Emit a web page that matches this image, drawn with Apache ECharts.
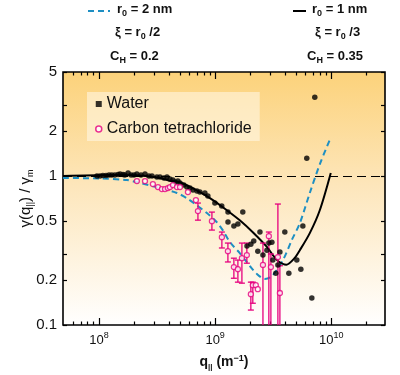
<!DOCTYPE html>
<html>
<head>
<meta charset="utf-8">
<script src="https://cdn.jsdelivr.net/npm/echarts@6/dist/echarts.min.js"></script>
<style>
  html, body { margin: 0; padding: 0; background: #fff; }
  #chart { width: 400px; height: 375px; }
</style>
</head>
<body>
<div id="chart"></div>
<script>
// tick values
var xMajor = [1e8, 1e9, 1e10];
var xMinor = [6e7, 7e7, 8e7, 9e7, 2e8, 3e8, 4e8, 5e8, 6e8, 7e8, 8e8, 9e8,
  2e9, 3e9, 4e9, 5e9, 6e9, 7e9, 8e9, 9e9, 2e10];
var yLabels = [0.1, 0.2, 0.5, 1, 2, 5];
var yTicks = [0.1, 0.2, 0.3, 0.5, 1, 2, 3, 5];

// model curves [q, gamma/gamma_m]
var fitR1 = [[4.9e7, 1.0], [1.24e8, 1.015], [2.25e8, 1.01], [3.35e8, 0.97], [4.08e8, 0.93],
  [4.97e8, 0.91], [6.07e8, 0.845], [7.39e8, 0.78], [9.57e8, 0.69], [1.26e9, 0.59],
  [1.63e9, 0.505], [2.11e9, 0.42], [2.79e9, 0.335], [3.14e9, 0.295], [3.5e9, 0.268],
  [4.1e9, 0.254], [4.8e9, 0.28], [5.36e9, 0.318], [6.53e9, 0.414], [7.96e9, 0.59], [9.9e9, 1.05]];
var fitR2 = [[4.9e7, 0.97], [1.0e8, 0.965], [1.74e8, 0.94], [2.25e8, 0.9], [3.35e8, 0.83],
  [4.69e8, 0.77], [5.71e8, 0.71], [6.97e8, 0.635], [8.49e8, 0.565], [1.035e9, 0.49],
  [1.17e9, 0.43], [1.34e9, 0.36], [1.63e9, 0.304], [1.99e9, 0.249], [2.29e9, 0.22],
  [2.68e9, 0.204], [3.08e9, 0.213], [3.83e9, 0.272], [4.57e9, 0.372], [5.36e9, 0.483],
  [6.53e9, 0.77], [7.96e9, 1.2], [9.7e9, 1.75]];

// measurements
var water = [[9.6e7, 1.0], [1.02e8, 1.0], [1.08e8, 1.008], [1.15e8, 1.008], [1.22e8, 1.016],
  [1.29e8, 1.016], [1.37e8, 1.016], [1.46e8, 1.023], [1.52e8, 1.031], [1.61e8, 1.023],
  [1.67e8, 1.016], [1.78e8, 1.047], [1.89e8, 1.016], [2.0e8, 1.016], [2.12e8, 1.031],
  [2.3e8, 1.016], [2.49e8, 1.031], [2.69e8, 1.0], [2.86e8, 1.0], [3.15e8, 0.985],
  [3.35e8, 0.985], [3.62e8, 0.969], [3.85e8, 0.985], [4.08e8, 0.955], [4.33e8, 0.94],
  [4.51e8, 0.911], [4.78e8, 0.926], [4.98e8, 0.897], [5.38e8, 0.87], [5.71e8, 0.844],
  [6.07e8, 0.831], [6.44e8, 0.805], [6.97e8, 0.793], [7.39e8, 0.781], [8.16e8, 0.769],
  [8.66e8, 0.734], [9.95e8, 0.659], [1.14e9, 0.629], [1.29e9, 0.573], [1.29e9, 0.491],
  [1.45e9, 0.462], [1.57e9, 0.476], [1.73e9, 0.573], [1.88e9, 0.339], [2.03e9, 0.349],
  [2.15e9, 0.366], [2.43e9, 0.421], [2.33e9, 0.313], [2.58e9, 0.295], [2.79e9, 0.318],
  [2.9e9, 0.355], [3.08e9, 0.36], [3.14e9, 0.273], [3.33e9, 0.223], [3.47e9, 0.253],
  [3.61e9, 0.309], [3.98e9, 0.421], [4.31e9, 0.223], [5.05e9, 0.273], [5.47e9, 0.237],
  [5.69e9, 0.462], [6.15e9, 1.32], [6.8e9, 0.152], [7.21e9, 3.39]];
var ccl4 = [[2.12e8, 0.926], [2.49e8, 0.926], [2.91e8, 0.884], [3.22e8, 0.844], [3.48e8, 0.818],
  [3.7e8, 0.818], [3.92e8, 0.831], [4.08e8, 0.844], [4.33e8, 0.87], [4.69e8, 0.844],
  [4.98e8, 0.844], [5.83e8, 0.781], [6.83e8, 0.69], [7.11e8, 0.582], [9.38e8, 0.498],
  [1.143e9, 0.389], [1.288e9, 0.313], [1.45e9, 0.245], [1.57e9, 0.237], [1.7e9, 0.281],
  [1.875e9, 0.295], [2.03e9, 0.161], [2.11e9, 0.185], [2.24e9, 0.185], [2.33e9, 0.174],
  [2.58e9, 0.253], [2.9e9, 0.395], [3.02e9, 0.245], [3.47e9, 0.286], [3.61e9, 0.164]];
// error bars [q, low, high]
var ccl4Err = [[7.11e8, 0.506, 0.659], [9.38e8, 0.434, 0.573], [1.143e9, 0.329, 0.421],
  [1.288e9, 0.265, 0.355], [1.45e9, 0.206, 0.281], [1.57e9, 0.194, 0.273],
  [1.7e9, 0.191, 0.355], [1.875e9, 0.26, 0.355], [2.03e9, 0.126, 0.194],
  [2.11e9, 0.14, 0.194], [2.58e9, 0.1, 0.355], [2.9e9, 0.1, 0.421],
  [3.02e9, 0.1, 0.3], [3.47e9, 0.1, 0.649], [3.61e9, 0.1, 0.25]];

var chart = echarts.init(document.getElementById('chart'));

var FONT = 'Liberation Sans, Arial, sans-serif';
var MAGENTA = '#e6007e';
var BLUE = '#1e8fc3';
var xMin = 4.9e7, xMax = 2.9e10, yMin = 0.1, yMax = 5;

function xAxisDef(pos, ticks, len, withLabel) {
  return {
    type: 'log', logBase: 10, min: xMin, max: xMax, position: pos,
    axisLine: { show: false }, splitLine: { show: false },
    axisTick: { show: true, inside: true, length: len, customValues: ticks,
      lineStyle: { color: '#000', width: 1.2 } },
    axisLabel: withLabel ? {
      customValues: xMajor, margin: 6, color: '#111', fontFamily: FONT, fontSize: 13,
      formatter: function (v) { return '10{s|' + Math.round(Math.log10(v)) + '}'; },
      rich: { s: { fontSize: 9, fontFamily: FONT, color: '#111', padding: [0, 0, 9, 0] } }
    } : { show: false },
    name: withLabel ? '{b|q}{sb|||}{b| (m}{sp|−1}{b|)}' : '',
    nameLocation: 'middle', nameGap: 29, nameMoveOverlap: false,
    nameTextStyle: { rich: {
      b: { fontSize: 14, fontWeight: 'bold', fontFamily: FONT, color: '#111' },
      sb: { fontSize: 8, fontWeight: 'bold', fontFamily: FONT, color: '#111', padding: [9, 0, 0, 0] },
      sp: { fontSize: 9, fontWeight: 'bold', fontFamily: FONT, color: '#111', padding: [0, 0, 8, 0] }
    } }
  };
}

function yAxisDef(pos, withLabel) {
  return {
    type: 'log', logBase: 10, min: yMin, max: yMax, position: pos,
    axisLine: { show: false }, splitLine: { show: false },
    axisTick: { show: true, inside: true, length: 4, customValues: yTicks,
      lineStyle: { color: '#000', width: 1.2 } },
    axisLabel: withLabel ? { customValues: yLabels, margin: 6, color: '#111',
      fontFamily: FONT, fontSize: 15 } : { show: false },
    name: withLabel ? '{n|γ(q}{s|||}{n|) / γ}{s|m}' : '',
    nameLocation: 'middle', nameGap: 28, nameRotate: 90, nameMoveOverlap: false,
    nameTextStyle: { rich: {
      n: { fontSize: 15, fontFamily: FONT, color: '#111' },
      s: { fontSize: 9, fontFamily: FONT, color: '#111', padding: [9, 0, 0, 0] }
    } }
  };
}

var option = {
  animation: false,
  backgroundColor: '#fff',
  textStyle: { fontFamily: FONT },
  grid: {
    left: 63, top: 72, right: 15, bottom: 50, show: true, outerBoundsMode: 'none',
    borderColor: '#000', borderWidth: 1.6,
    backgroundColor: { type: 'linear', x: 0, y: 0, x2: 0, y2: 1, colorStops: [
      { offset: 0, color: '#fcd27a' }, { offset: 0.45, color: '#fde6bb' },
      { offset: 1, color: '#ffffff' }] }
  },
  legend: {
    left: 87, top: 92, orient: 'vertical', itemGap: 9,
    padding: [4, 8, 4, 8], backgroundColor: 'rgba(255,250,235,0.55)',
    itemWidth: 6, itemHeight: 6,
    textStyle: { fontSize: 16, fontFamily: FONT, color: '#111', lineHeight: 16 },
    data: [
      { name: 'Water', icon: 'rect', itemStyle: { color: '#000' } },
      { name: 'Carbon tetrachloride', icon: 'circle',
        itemStyle: { color: '#fff', borderColor: MAGENTA, borderWidth: 1.5 } }
    ]
  },
  graphic: [
    { type: 'line', shape: { x1: 88, y1: 11, x2: 110, y2: 11 },
      style: { stroke: BLUE, lineWidth: 2, lineDash: [6, 4] } },
    { type: 'text', left: 117, top: 3, style: { text: 'r{s|0} = 2 nm', fill: '#111',
      font: 'bold 13px ' + FONT, rich: { s: { fontSize: 9, fontWeight: 'bold', padding: [8, 0, 0, 0] } } } },
    { type: 'text', left: 115, top: 26, style: { text: 'ξ = r{s|0} /2', fill: '#111',
      font: 'bold 13px ' + FONT, rich: { s: { fontSize: 9, fontWeight: 'bold', padding: [8, 0, 0, 0] } } } },
    { type: 'text', left: 110, top: 50, style: { text: 'C{s|H} = 0.2', fill: '#111',
      font: 'bold 13px ' + FONT, rich: { s: { fontSize: 9, fontWeight: 'bold', padding: [8, 0, 0, 0] } } } },
    { type: 'line', shape: { x1: 293, y1: 11, x2: 306, y2: 11 },
      style: { stroke: '#000', lineWidth: 2 } },
    { type: 'text', left: 312, top: 3, style: { text: 'r{s|0} = 1 nm', fill: '#111',
      font: 'bold 13px ' + FONT, rich: { s: { fontSize: 9, fontWeight: 'bold', padding: [8, 0, 0, 0] } } } },
    { type: 'text', left: 315, top: 26, style: { text: 'ξ = r{s|0} /3', fill: '#111',
      font: 'bold 13px ' + FONT, rich: { s: { fontSize: 9, fontWeight: 'bold', padding: [8, 0, 0, 0] } } } },
    { type: 'text', left: 307, top: 50, style: { text: 'C{s|H} = 0.35', fill: '#111',
      font: 'bold 13px ' + FONT, rich: { s: { fontSize: 9, fontWeight: 'bold', padding: [8, 0, 0, 0] } } } }
  ],
  xAxis: [
    xAxisDef('bottom', xMajor, 7, true),
    xAxisDef('bottom', xMinor, 3.5, false),
    xAxisDef('top', xMajor, 7, false),
    xAxisDef('top', xMinor, 3.5, false)
  ],
  yAxis: [yAxisDef('left', true), yAxisDef('right', false)],
  series: [
    {
      name: 'r0 = 2 nm', type: 'line', data: fitR2, showSymbol: false, smooth: 0.3,
      lineStyle: { color: BLUE, width: 2, type: [6, 4] }, z: 3,
      markLine: {
        silent: true, symbol: 'none', label: { show: false },
        lineStyle: { color: '#000', width: 1.2, type: [9, 5] },
        data: [{ yAxis: 1 }]
      }
    },
    {
      name: 'r0 = 1 nm', type: 'line', data: fitR1, showSymbol: false, smooth: 0.3,
      lineStyle: { color: '#000', width: 2 }, z: 3
    },
    {
      name: 'Water', type: 'scatter', data: water, symbol: 'circle', symbolSize: 5.5,
      itemStyle: { color: '#000' }, z: 4
    },
    {
      name: 'ccl4 errors', type: 'custom', data: ccl4Err, clip: true, z: 4,
      encode: { x: 0, y: [1, 2] },
      renderItem: function (params, api) {
        var q = api.value(0);
        var lo = api.coord([q, api.value(1)]);
        var hi = api.coord([q, api.value(2)]);
        var kids = [{ type: 'line', shape: { x1: lo[0], y1: lo[1], x2: hi[0], y2: hi[1] },
          style: { stroke: MAGENTA, lineWidth: 1.3 } },
          { type: 'line', shape: { x1: hi[0] - 3, y1: hi[1], x2: hi[0] + 3, y2: hi[1] },
          style: { stroke: MAGENTA, lineWidth: 1.3 } }];
        if (api.value(1) > yMin) {
          kids.push({ type: 'line', shape: { x1: lo[0] - 3, y1: lo[1], x2: lo[0] + 3, y2: lo[1] },
            style: { stroke: MAGENTA, lineWidth: 1.3 } });
        }
        return { type: 'group', children: kids };
      }
    },
    {
      name: 'Carbon tetrachloride', type: 'scatter', data: ccl4, symbol: 'circle', symbolSize: 5,
      itemStyle: { color: '#fff', borderColor: MAGENTA, borderWidth: 1.3 }, z: 5
    }
  ]
};

chart.setOption(option);
</script>
</body>
</html>
